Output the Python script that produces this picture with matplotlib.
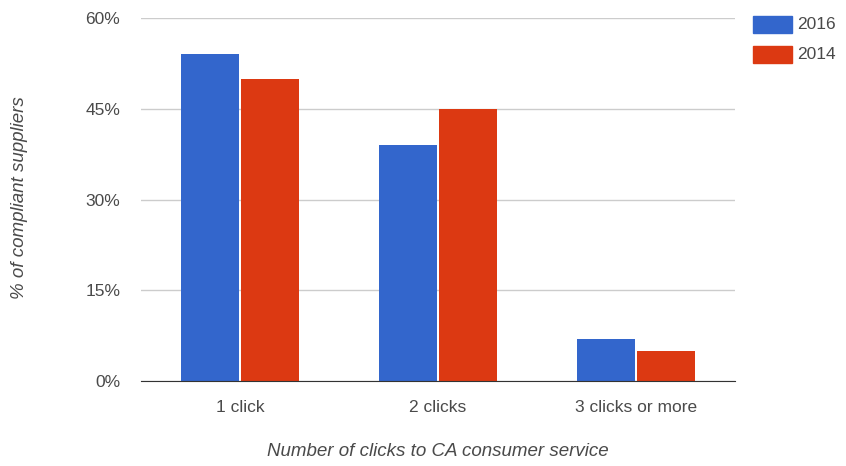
import numpy as np
import matplotlib.pyplot as plt
from matplotlib.patches import Rectangle

plt.rcParams['font.family'] = ['Liberation Sans', 'DejaVu Sans']

categories = ["1 click", "2 clicks", "3 clicks or more"]
share_2016 = [54, 39, 7]
share_2014 = [50, 45, 5]
yticks = [0, 15, 30, 45, 60]

blue = "#3366cc"
red = "#dc3912"
grey = "#4a4a4a"

fig = plt.figure(figsize=(8.46, 4.66), dpi=100)
ax = fig.add_axes([141 / 846, 1 - 381 / 466, 594 / 846, 363 / 466])

x = np.arange(len(categories))
w = 0.295
ax.bar(x - w / 2 - 0.004, share_2016, w, color=blue, zorder=2)
ax.bar(x + w / 2 + 0.004, share_2014, w, color=red, zorder=2)

ax.set_xlim(-0.5, 2.5)
ax.set_ylim(0, 60)
ax.set_yticks(yticks)
ax.set_yticklabels([f"{v}%" for v in yticks])
ax.set_xticks(x)
ax.set_xticklabels(categories)
ax.tick_params(length=0, labelsize=12.5, labelcolor=grey)
ax.tick_params(axis="y", pad=15)
ax.tick_params(axis="x", pad=14)
ax.grid(axis="y", color="#cccccc", linewidth=1, zorder=0)
for s in ["top", "right", "left"]:
    ax.spines[s].set_visible(False)
ax.spines["bottom"].set_color("#333333")
ax.spines["bottom"].set_zorder(3)

fig.text(20 / 846, 1 - 198 / 466, "% of compliant suppliers", rotation=90,
         ha="center", va="center", style="italic", fontsize=13.5, color=grey)
fig.text(438 / 846, 1 - 452 / 466, "Number of clicks to CA consumer service",
         ha="center", va="center", style="italic", fontsize=13.5, color=grey)

# legend boxes drawn by hand, Google-charts style
for i, (lab, col) in enumerate([("2016", blue), ("2014", red)]):
    y0 = 1 - (33 + 30 * i) / 466
    fig.patches.append(Rectangle((753 / 846, y0), 39 / 846, 17 / 466,
                                 transform=fig.transFigure, color=col))
    fig.text(797 / 846, y0 + 8.5 / 466, lab, va="center", ha="left",
             fontsize=12.5, color=grey)

fig.savefig("out.png", dpi=100)
